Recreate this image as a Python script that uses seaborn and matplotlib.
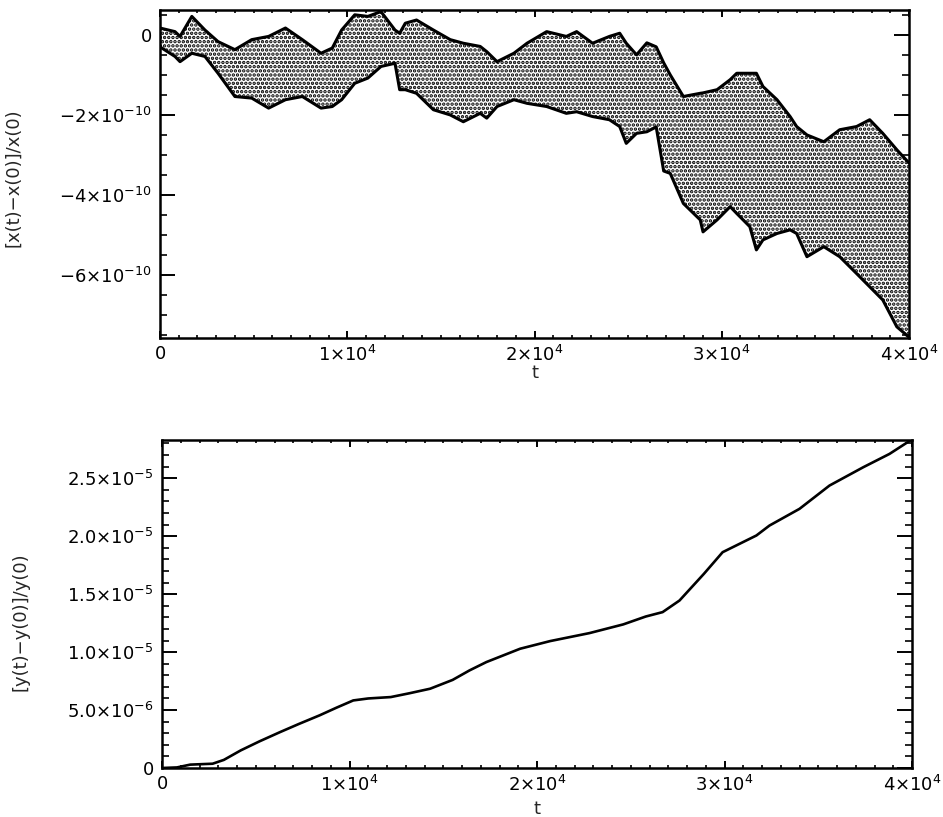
import matplotlib
matplotlib.use("Agg")
import matplotlib.pyplot as plt
from matplotlib.ticker import FixedLocator, FixedFormatter, MultipleLocator
import pandas as pd
import seaborn as sns

# --- x(t): envelope of the scattered relative deviation (t in 1e3, value in 1e-10)
band_t = [0.0, 0.8, 1.07, 1.7, 2.4, 3.1, 4.0, 4.9, 5.8, 6.7, 7.6, 8.6, 9.2, 9.7,
          10.4, 11.1, 11.8, 12.55, 12.8, 13.1, 13.7, 14.6, 15.5, 16.2, 17.1, 17.45,
          18.0, 18.9, 19.6, 20.65, 21.7, 22.25, 23.1, 24.0, 24.55, 24.9, 25.45,
          26.0, 26.5, 26.9, 27.25, 27.95, 28.85, 29.0, 29.75, 30.45, 30.8, 31.5,
          31.85, 32.2, 32.95, 33.65, 34.0, 34.55, 35.45, 36.3, 37.2, 37.9, 38.6,
          39.35, 40.0]
band_upper = [0.17, 0.08, -0.04, 0.46, 0.12, -0.17, -0.37, -0.12, -0.04, 0.17,
              -0.12, -0.46, -0.33, 0.12, 0.5, 0.46, 0.58, 0.12, 0.04, 0.29, 0.37,
              0.12, -0.12, -0.21, -0.29, -0.42, -0.67, -0.46, -0.21, 0.08, -0.04,
              0.08, -0.21, -0.04, 0.04, -0.21, -0.5, -0.2, -0.3, -0.7, -1.0, -1.54,
              -1.46, -1.45, -1.37, -1.12, -0.96, -0.96, -0.96, -1.29, -1.62, -2.04,
              -2.29, -2.5, -2.67, -2.37, -2.29, -2.12, -2.46, -2.87, -3.2]
band_lower = [-0.3, -0.54, -0.67, -0.46, -0.54, -0.96, -1.54, -1.58, -1.83, -1.62,
              -1.54, -1.83, -1.79, -1.62, -1.21, -1.08, -0.79, -0.71, -1.37, -1.37,
              -1.46, -1.87, -2.0, -2.17, -1.96, -2.08, -1.79, -1.62, -1.71, -1.79,
              -1.96, -1.92, -2.04, -2.12, -2.29, -2.71, -2.46, -2.42, -2.3, -3.4,
              -3.46, -4.21, -4.62, -4.92, -4.62, -4.29, -4.46, -4.79, -5.37, -5.12,
              -4.96, -4.87, -4.96, -5.54, -5.29, -5.54, -5.96, -6.29, -6.62, -7.29,
              -7.55]

# --- y(t): relative deviation (t in 1e3, value in 1e-6)
curve_t = [0.0, 0.8, 1.5, 2.7, 3.3, 4.2, 5.2, 6.3, 7.3, 8.4, 9.3, 10.2, 11.0,
           12.2, 13.2, 14.3, 15.5, 16.4, 17.3, 19.1, 20.7, 22.8, 24.6, 25.8, 26.7,
           27.6, 28.9, 29.9, 31.7, 32.4, 34.0, 35.6, 37.4, 38.8, 39.9, 40.0]
curve_y = [0.0, 0.05, 0.29, 0.37, 0.7, 1.52, 2.3, 3.1, 3.8, 4.54, 5.2, 5.83, 6.0,
           6.12, 6.45, 6.84, 7.6, 8.42, 9.14, 10.29, 10.95, 11.64, 12.39, 13.07,
           13.45, 14.45, 16.75, 18.62, 20.06, 20.92, 22.36, 24.37, 25.95, 27.1,
           28.25, 28.3]

x_ticks = [0, 1e4, 2e4, 3e4, 4e4]
x_tick_labels = ["0", r"$1{\times}10^{4}$", r"$2{\times}10^{4}$",
                 r"$3{\times}10^{4}$", r"$4{\times}10^{4}$"]
top_y_ticks = [0, -2e-10, -4e-10, -6e-10]
top_y_tick_labels = ["0", r"$-2{\times}10^{-10}$", r"$-4{\times}10^{-10}$",
                     r"$-6{\times}10^{-10}$"]
bottom_y_ticks = [0, 5e-6, 1e-5, 1.5e-5, 2e-5, 2.5e-5]
bottom_y_tick_labels = ["0", r"$5.0{\times}10^{-6}$", r"$1.0{\times}10^{-5}$",
                        r"$1.5{\times}10^{-5}$", r"$2.0{\times}10^{-5}$",
                        r"$2.5{\times}10^{-5}$"]

sns.set_theme(style="ticks")
plt.rcParams["font.family"] = ["DejaVu Sans"]
plt.rcParams["mathtext.fontset"] = "dejavusans"
plt.rcParams["hatch.linewidth"] = 1.7

band = pd.DataFrame({
    "t": [v * 1e3 for v in band_t],
    "upper": [v * 1e-10 for v in band_upper],
    "lower": [v * 1e-10 for v in band_lower],
})
curve = pd.DataFrame({
    "t": [v * 1e3 for v in curve_t],
    "dy": [v * 1e-6 for v in curve_y],
})

fig = plt.figure(figsize=(9.43, 8.17), dpi=100)
ax1 = fig.add_axes([160 / 943, 1 - 338 / 817, 749 / 943, 328 / 817])
ax2 = fig.add_axes([162 / 943, 1 - 768 / 817, 750 / 943, 328 / 817])

# top: scattered band drawn as a stippled region between its envelopes
ax1.fill_between(band["t"], band["lower"], band["upper"], facecolor="white",
                 edgecolor="black", hatch="....", linewidth=0)
sns.lineplot(data=band, x="t", y="upper", ax=ax1, color="black", linewidth=2.2)
sns.lineplot(data=band, x="t", y="lower", ax=ax1, color="black", linewidth=2.2)
ax1.set_xlim(0, 4e4)
ax1.set_ylim(-7.57e-10, 0.62e-10)

# bottom: smooth growth
sns.lineplot(data=curve, x="t", y="dy", ax=ax2, color="black", linewidth=1.9)
ax2.set_xlim(0, 4e4)
ax2.set_ylim(0, 2.83e-5)

for ax, yt, ylab, yminor in ((ax1, top_y_ticks, top_y_tick_labels, 0.5e-10),
                             (ax2, bottom_y_ticks, bottom_y_tick_labels, 1e-6)):
    ax.xaxis.set_major_locator(FixedLocator(x_ticks))
    ax.xaxis.set_major_formatter(FixedFormatter(x_tick_labels))
    ax.xaxis.set_minor_locator(MultipleLocator(1000))
    ax.yaxis.set_major_locator(FixedLocator(yt))
    ax.yaxis.set_major_formatter(FixedFormatter(ylab))
    ax.yaxis.set_minor_locator(MultipleLocator(yminor))
    for s in ax.spines.values():
        s.set_linewidth(1.8)
        s.set_color("black")
    ax.tick_params(axis="both", which="both", direction="in", top=True,
                   right=True, color="black", labelsize=13, labelcolor="black")
    ax.tick_params(axis="x", which="major", length=5, width=1.4, pad=5)
    ax.tick_params(axis="x", which="minor", length=2.5, width=1.2)
    ax.tick_params(axis="y", which="major", length=11, width=1.4, pad=6)
    ax.tick_params(axis="y", which="minor", length=5, width=1.2)
    ax.set_xlabel("t", fontsize=13)

ax1.set_ylabel("[x(t)\u2212x(0)]/x(0)", fontsize=13)
ax2.set_ylabel("[y(t)\u2212y(0)]/y(0)", fontsize=13)
ax1.yaxis.set_label_coords(-0.184, 0.49)
ax2.yaxis.set_label_coords(-0.176, 0.445)
ax1.xaxis.set_label_coords(0.5, -0.078)
ax2.xaxis.set_label_coords(0.5, -0.098)

fig.savefig("out.png", dpi=100)
